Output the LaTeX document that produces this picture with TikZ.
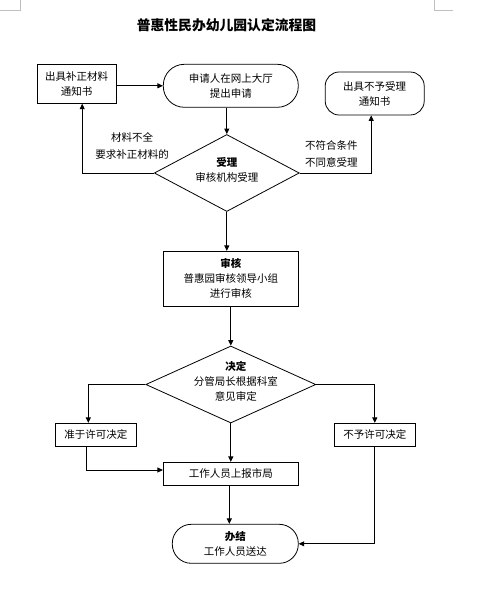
\documentclass[tikz,border=0pt]{standalone}
\usepackage{fontspec}
\setmainfont{Noto Sans CJK SC}
\usetikzlibrary{arrows.meta,shapes.geometric}

\begin{document}
\begin{tikzpicture}[x=1pt,y=-1pt,line width=0.8pt,
    >={Triangle[length=5.5pt,width=5pt]},
    every node/.style={font=\fontsize{10.5}{15}\selectfont, align=center},
    hop/.style={draw, rectangle, inner sep=0pt},
    bo/.style={draw, rounded corners=#1, inner sep=0pt},
    thoi/.style={draw, diamond, inner sep=0pt},
    goc/.style={draw=black!25}]
    \useasboundingbox (0,0) rectangle (478,594);
    %%Goc trang
    \draw[goc] (0,10) -- (20,10) -- (20,0);
    \draw[goc] (434,0) -- (434,10) -- (453,10);
    %%Tieu de
    \node[font=\fontsize{13.8}{16}\selectfont\bfseries] (tieude) at (226.5,25) {普惠性民办幼儿园认定流程图};
    %%Cac khung
    \node[hop, minimum width=79pt, minimum height=39pt] (bu) at (76.7,83.8) {出具补正材料\\通知书};
    \node[bo=21pt, minimum width=135pt, minimum height=43pt] (shen) at (230.8,85.8) {申请人在网上大厅\\提出申请};
    \node[bo=14pt, minimum width=99pt, minimum height=43pt] (bushou) at (374.7,93.5) {出具不予受理\\通知书};
    \node[thoi, minimum width=145pt, minimum height=77pt,
        label={[yshift=3.5pt]center:{\textbf{受理}\\审核机构受理}}] (shouli) at (226.8,173) {};
    \node[hop, minimum width=135pt, minimum height=55pt] (shenhe) at (230.8,278.8) {\textbf{审核}\\普惠园审核领导小组\\进行审核};
    \node[thoi, minimum width=170pt, minimum height=77pt,
        label={[xshift=5pt,yshift=3.5pt]center:{\textbf{决定}\\分管局长根据科室\\意见审定}}] (jueding) at (230.8,384.5) {};
    \node[hop, minimum width=81pt, minimum height=23pt] (zhun) at (95.8,434.8) {准于许可决定};
    \node[hop, minimum width=81pt, minimum height=23pt] (buyu) at (374.8,434.8) {不予许可决定};
    \node[hop, minimum width=135pt, minimum height=23pt] (shang) at (230.8,473.8) {工作人员上报市局};
    \node[bo=19pt, minimum width=126pt, minimum height=39pt] (banjie) at (235.3,543.8) {\textbf{办结}\\工作人员送达};
    %%Nhan
    \node[font=\fontsize{10.5}{16.3}\selectfont] (buquan) at (132,146) {材料不全\\要求补正材料的};
    \node[font=\fontsize{10.5}{16.3}\selectfont] (bufu) at (331.3,154) {不符合条件\\不同意受理};
    %%Mui ten
    \coordinate (xuong) at ([xshift=-1.5pt]shang.south);
    \draw[->] (shen.west -| bu.east) -- (shen.west);
    \draw[->] (shen.south -| shouli.north) -- (shouli.north);
    \draw[->] (shouli.west) -| ([xshift=5.5pt]bu.south);
    \draw[->] (shouli.east) -| ([xshift=-3.5pt]bushou.south);
    \draw[->] (shouli.south) -- (shouli.south |- shenhe.north);
    \draw[->] (shenhe.south -| jueding.north) -- (jueding.north);
    \draw[->] (jueding.west) -| ([xshift=-7.5pt]zhun.north);
    \draw[->] (jueding.east) -| (buyu.north);
    \draw[->] (jueding.south) -- (jueding.south |- shang.north);
    \draw[->] ([xshift=-9pt]zhun.south) |- ([yshift=3.8pt]shang.west);
    \draw[->] (xuong) -- (xuong |- banjie.north);
    \draw[->] (buyu.south) |- (banjie.east);
\end{tikzpicture}
\end{document}
